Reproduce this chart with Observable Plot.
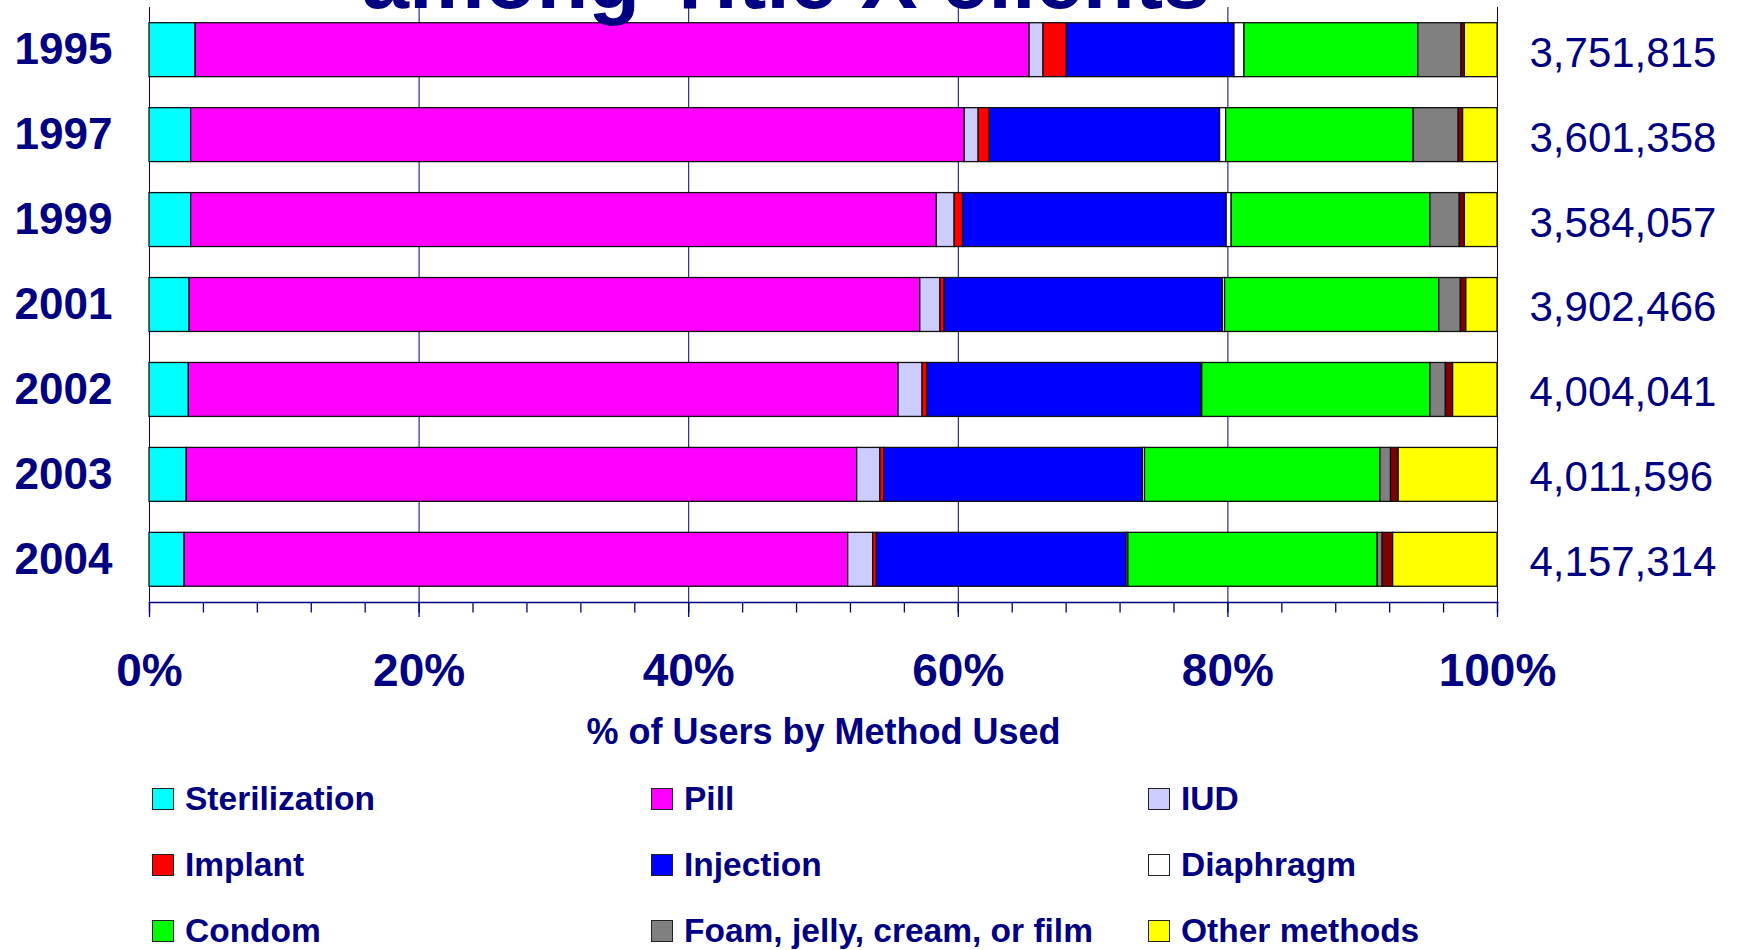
<!DOCTYPE html>
<html>
<head>
<meta charset="utf-8">
<script src="https://cdn.jsdelivr.net/npm/d3@7"></script>
<script src="https://cdn.jsdelivr.net/npm/@observablehq/plot@0.6"></script>
<style>
  html, body { margin: 0; padding: 0; background: #fff; width: 1740px; height: 950px; overflow: hidden; }
  body { position: relative; font-family: "Liberation Sans", Arial, sans-serif; color: #000080; }
  #title { position: absolute; top: -64px; left: 786px; transform: translateX(-50%); font-size: 85px; line-height: 85px; font-weight: bold; white-space: nowrap; z-index: 2; }
  #chart { position: absolute; left: 0; top: 0; z-index: 1; }
  .item { position: absolute; height: 22px; display: flex; align-items: center; gap: 11px; white-space: nowrap; }
  .sw { width: 22px; height: 22px; box-sizing: border-box; border: 1.5px solid #222; }
  .lab { font-size: 33.5px; line-height: 22px; font-weight: bold; }
</style>
</head>
<body>
<div id="title">among Title X clients</div>
<div id="chart"></div>
<div id="legend"></div>
<script>
const years = ["1995", "1997", "1999", "2001", "2002", "2003", "2004"];
const totals = [3751815, 3601358, 3584057, 3902466, 4004041, 4011596, 4157314];
const methods = ["Sterilization", "Pill", "IUD", "Implant", "Injection", "Diaphragm", "Condom", "Foam, jelly, cream, or film", "Natural family planning", "Other methods"];
const colors = ["#00FFFF", "#FF00FF", "#CCCCFF", "#FF0000", "#0000FF", "#FFFFFF", "#00FF00", "#808080", "#800000", "#FFFF00"];
const legendMethods = ["Sterilization", "Pill", "IUD", "Implant", "Injection", "Diaphragm", "Condom", "Foam, jelly, cream, or film", "Other methods"];

// percent of users by method, one array per method, in year order
const sterilization = [3.42, 3.09, 3.09, 2.97, 2.92, 2.76, 2.60];
const pill          = [61.87, 57.39, 55.32, 54.21, 52.65, 49.74, 49.23];
const iud           = [1.03, 1.03, 1.32, 1.49, 1.78, 1.72, 1.86];
const implant       = [1.73, 0.82, 0.62, 0.32, 0.37, 0.28, 0.27];
const injection     = [12.44, 17.09, 19.56, 20.63, 20.30, 19.19, 18.53];
const diaphragm     = [0.74, 0.45, 0.37, 0.17, 0.08, 0.16, 0.13];
const condom        = [12.89, 13.91, 14.74, 15.89, 16.92, 17.46, 18.49];
const foam          = [3.21, 3.34, 2.18, 1.60, 1.15, 0.79, 0.37];
const nfp           = [0.25, 0.33, 0.38, 0.41, 0.54, 0.57, 0.78];
const other         = [2.42, 2.55, 2.42, 2.31, 3.29, 7.33, 7.74];

const majorTicks = [0, 0.2, 0.4, 0.6, 0.8, 1];
const minorTicks = [0, 0.04, 0.08, 0.12, 0.16, 0.2, 0.24, 0.28, 0.32, 0.36, 0.4, 0.44, 0.48, 0.52, 0.56, 0.6, 0.64, 0.68, 0.72, 0.76, 0.8, 0.84, 0.88, 0.92, 0.96, 1];
const axisTitle = "% of Users by Method Used";

const series = [sterilization, pill, iud, implant, injection, diaphragm, condom, foam, nfp, other];
const rows = [];
years.forEach((y, i) => methods.forEach((m, j) => rows.push({year: y, method: m, value: series[j][i]})));
const totalRows = years.map((y, i) => ({year: y, total: totals[i]}));

const navy = "#000080";

const chart = Plot.plot({
  width: 1740,
  height: 770,
  marginLeft: 149,
  marginRight: 243,
  marginTop: 7,
  marginBottom: 168,
  style: {fontFamily: "'Liberation Sans', Arial, sans-serif", color: navy, background: "transparent", overflow: "visible"},
  x: {domain: [0, 1], axis: null, label: null},
  y: {domain: years, paddingInner: 0.365, paddingOuter: 0.185, round: false, axis: null, label: null},
  color: {domain: methods, range: colors},
  marks: [
    Plot.gridX(majorTicks, {stroke: navy, strokeOpacity: 1, strokeWidth: 1}),
    Plot.barX(rows, Plot.stackX({offset: "normalize", order: methods, x: "value", y: "year", fill: "method", stroke: "#111", strokeWidth: 1.3})),
    Plot.frame({anchor: "bottom", stroke: navy, strokeWidth: 1.6}),
    Plot.axisX(minorTicks, {tickSize: 10.5, text: null, label: null, strokeWidth: 1.3}),
    Plot.axisX(majorTicks, {tickSize: 15, tickPadding: 36, tickFormat: d3.format(".0%"), label: null, fontSize: 46, fontWeight: "bold", strokeWidth: 1.3}),
    Plot.axisY({tickSize: 0, tickPadding: 37, label: null, fontSize: 44, fontWeight: "bold"}),
    Plot.text(totalRows, {frameAnchor: "right", y: "year", text: d => d3.format(",")(d.total), textAnchor: "start", dx: 32, dy: 3, fontSize: 42}),
    Plot.text([axisTitle], {frameAnchor: "bottom", dy: 141, fontSize: 36, fontWeight: "bold"})
  ]
});
document.getElementById("chart").appendChild(chart);

// legend: 3 columns x 3 rows
const legend = document.getElementById("legend");
const colX = [152, 651, 1148];
const rowY = [788, 854, 920];
legendMethods.forEach((m, k) => {
  const item = document.createElement("div");
  item.className = "item";
  item.style.left = colX[k % 3] + "px";
  item.style.top = rowY[Math.floor(k / 3)] + "px";
  const sw = document.createElement("div");
  sw.className = "sw";
  sw.style.background = colors[methods.indexOf(m)];
  const lab = document.createElement("span");
  lab.className = "lab";
  lab.textContent = m;
  item.appendChild(sw);
  item.appendChild(lab);
  legend.appendChild(item);
});
</script>
</body>
</html>
